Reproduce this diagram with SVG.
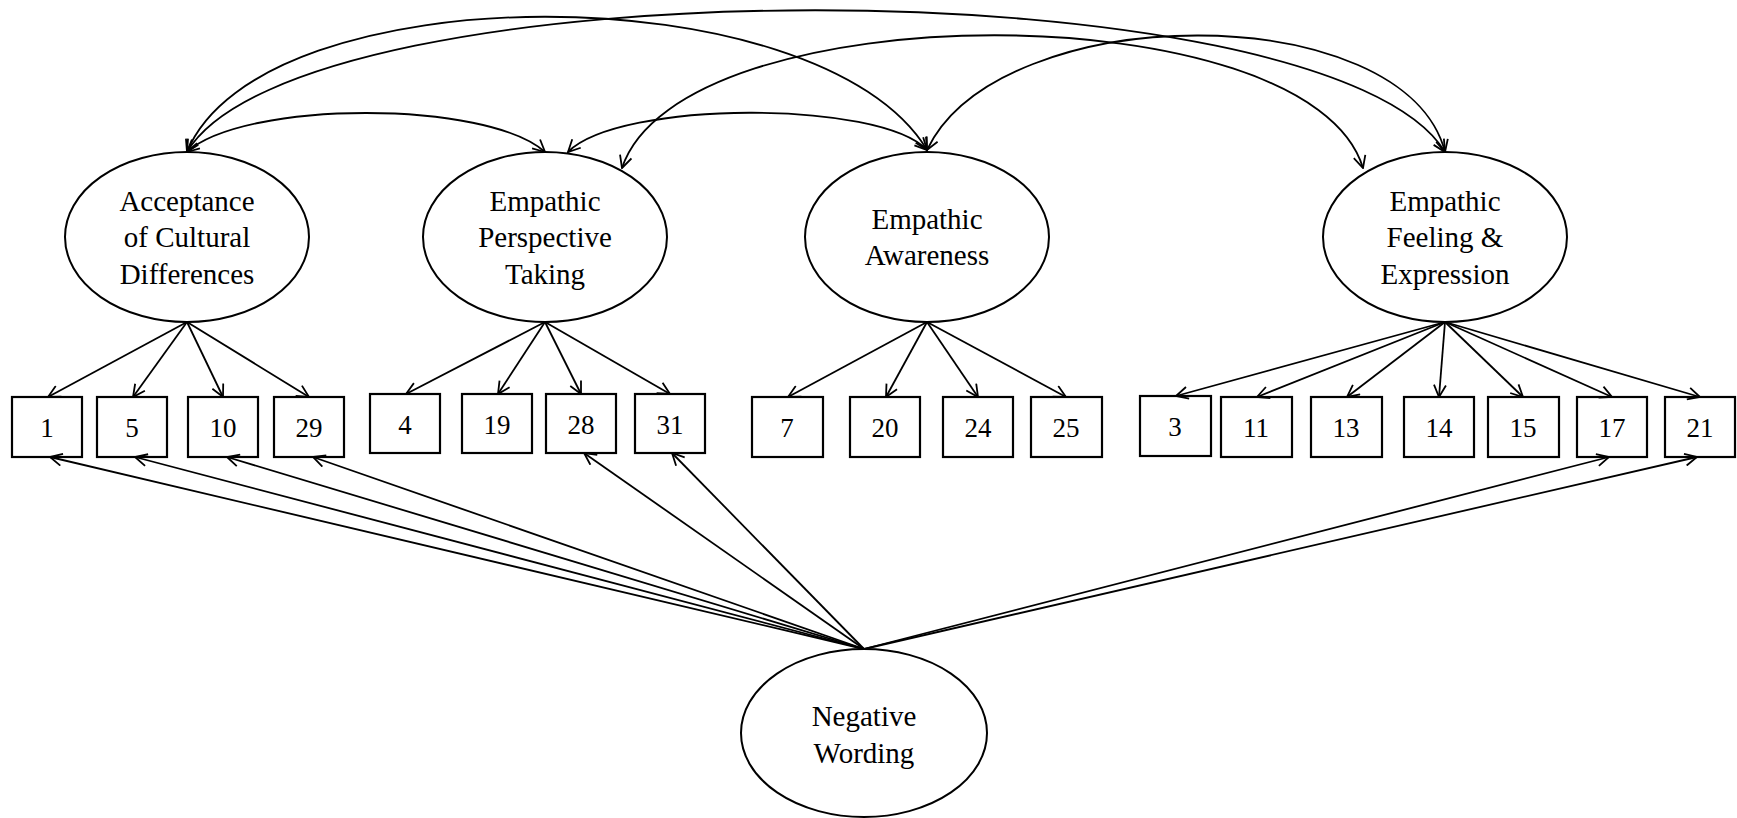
<svg xmlns="http://www.w3.org/2000/svg" width="1737" height="818" viewBox="0 0 1737 818">
<defs>
<marker id="arr" viewBox="0 0 14 14" markerWidth="14" markerHeight="14" refX="13" refY="7" orient="auto-start-reverse" markerUnits="userSpaceOnUse">
<path d="M1,1 L13,7 L1,13" fill="none" stroke="#000" stroke-width="1.8"/>
</marker>
</defs>
<style>
.lat ellipse{fill:#fff;stroke:#000;stroke-width:2}
.obs rect{fill:#fff;stroke:#000;stroke-width:2.2}
text{font-family:"Liberation Serif","Times New Roman",serif;fill:#000;text-anchor:middle}
.lt{font-size:29px}
.ot{font-size:27px}
.c path,.c line{fill:none;stroke:#000;stroke-width:1.8}
.c line{marker-end:url(#arr)}
.c path{marker-start:url(#arr);marker-end:url(#arr)}
</style>
<rect x="0" y="0" width="1737" height="818" fill="#fff"/>

<g id="acceptance" class="lat"><ellipse cx="187" cy="237" rx="122" ry="85"/>
<text class="lt" x="187" y="211">Acceptance</text><text class="lt" x="187" y="247">of Cultural</text><text class="lt" x="187" y="284">Differences</text></g>
<g id="perspective" class="lat"><ellipse cx="545" cy="237" rx="122" ry="85"/>
<text class="lt" x="545" y="211">Empathic</text><text class="lt" x="545" y="247">Perspective</text><text class="lt" x="545" y="284">Taking</text></g>
<g id="awareness" class="lat"><ellipse cx="927" cy="237" rx="122" ry="85"/>
<text class="lt" x="927" y="229">Empathic</text><text class="lt" x="927" y="265">Awareness</text></g>
<g id="feeling" class="lat"><ellipse cx="1445" cy="237" rx="122" ry="85"/>
<text class="lt" x="1445" y="211">Empathic</text><text class="lt" x="1445" y="247">Feeling &amp;</text><text class="lt" x="1445" y="284">Expression</text></g>
<g id="negative" class="lat"><ellipse cx="864" cy="733" rx="123" ry="84"/>
<text class="lt" x="864" y="726">Negative</text><text class="lt" x="864" y="763">Wording</text></g>

<g id="i1" class="obs"><rect x="12" y="397" width="70" height="60"/><text class="ot" x="47" y="437">1</text></g>
<g id="i5" class="obs"><rect x="97" y="397" width="70" height="60"/><text class="ot" x="132" y="437">5</text></g>
<g id="i10" class="obs"><rect x="188" y="397" width="70" height="60"/><text class="ot" x="223" y="437">10</text></g>
<g id="i29" class="obs"><rect x="274" y="397" width="70" height="60"/><text class="ot" x="309" y="437">29</text></g>
<g id="i4" class="obs"><rect x="370" y="394" width="70" height="59"/><text class="ot" x="405" y="434">4</text></g>
<g id="i19" class="obs"><rect x="462" y="394" width="70" height="59"/><text class="ot" x="497" y="434">19</text></g>
<g id="i28" class="obs"><rect x="546" y="394" width="70" height="59"/><text class="ot" x="581" y="434">28</text></g>
<g id="i31" class="obs"><rect x="635" y="394" width="70" height="59"/><text class="ot" x="670" y="434">31</text></g>
<g id="i7" class="obs"><rect x="752" y="397" width="71" height="60"/><text class="ot" x="787" y="437">7</text></g>
<g id="i20" class="obs"><rect x="850" y="397" width="70" height="60"/><text class="ot" x="885" y="437">20</text></g>
<g id="i24" class="obs"><rect x="943" y="397" width="70" height="60"/><text class="ot" x="978" y="437">24</text></g>
<g id="i25" class="obs"><rect x="1031" y="397" width="71" height="60"/><text class="ot" x="1066" y="437">25</text></g>
<g id="i3" class="obs"><rect x="1140" y="396" width="71" height="60"/><text class="ot" x="1175" y="436">3</text></g>
<g id="i11" class="obs"><rect x="1221" y="397" width="71" height="60"/><text class="ot" x="1256" y="437">11</text></g>
<g id="i13" class="obs"><rect x="1311" y="397" width="71" height="60"/><text class="ot" x="1346" y="437">13</text></g>
<g id="i14" class="obs"><rect x="1404" y="397" width="70" height="60"/><text class="ot" x="1439" y="437">14</text></g>
<g id="i15" class="obs"><rect x="1488" y="397" width="71" height="60"/><text class="ot" x="1523" y="437">15</text></g>
<g id="i17" class="obs"><rect x="1577" y="397" width="70" height="60"/><text class="ot" x="1612" y="437">17</text></g>
<g id="i21" class="obs"><rect x="1665" y="397" width="70" height="60"/><text class="ot" x="1700" y="437">21</text></g>

<g id="connectors" class="c">
<line x1="187" y1="322" x2="48" y2="397"/>
<line x1="187" y1="322" x2="133" y2="397"/>
<line x1="187" y1="322" x2="223" y2="397"/>
<line x1="187" y1="322" x2="309" y2="397"/>
<line x1="545" y1="322" x2="406" y2="394"/>
<line x1="545" y1="322" x2="498" y2="394"/>
<line x1="545" y1="322" x2="581" y2="394"/>
<line x1="545" y1="322" x2="670" y2="394"/>
<line x1="927" y1="322" x2="788" y2="397"/>
<line x1="927" y1="322" x2="886" y2="397"/>
<line x1="927" y1="322" x2="978" y2="397"/>
<line x1="927" y1="322" x2="1066" y2="397"/>
<line x1="1445" y1="322" x2="1176" y2="396"/>
<line x1="1445" y1="322" x2="1257" y2="397"/>
<line x1="1445" y1="322" x2="1347" y2="397"/>
<line x1="1445" y1="322" x2="1439" y2="397"/>
<line x1="1445" y1="322" x2="1523" y2="397"/>
<line x1="1445" y1="322" x2="1612" y2="397"/>
<line x1="1445" y1="322" x2="1700" y2="397"/>
<line x1="864" y1="649" x2="50" y2="457"/>
<line x1="864" y1="649" x2="135" y2="457"/>
<line x1="864" y1="649" x2="227" y2="457"/>
<line x1="864" y1="649" x2="313" y2="457"/>
<line x1="864" y1="649" x2="584" y2="453"/>
<line x1="864" y1="649" x2="672" y2="453"/>
<line x1="864" y1="649" x2="1609" y2="457"/>
<line x1="864" y1="649" x2="1697" y2="457"/>
<path d="M187,152 C245,100 487,100 545,152"/>
<path d="M568,152 C620,100 880,100 927,150"/>
<path d="M187,152 C260,-28 820,-28 927,150"/>
<path d="M187,152 C300,-37 1330,-37 1445,152"/>
<path d="M622,168 C680,-9 1310,-9 1363,168"/>
<path d="M927,150 C1000,-3 1405,-3 1445,152"/>
</g>
</svg>
